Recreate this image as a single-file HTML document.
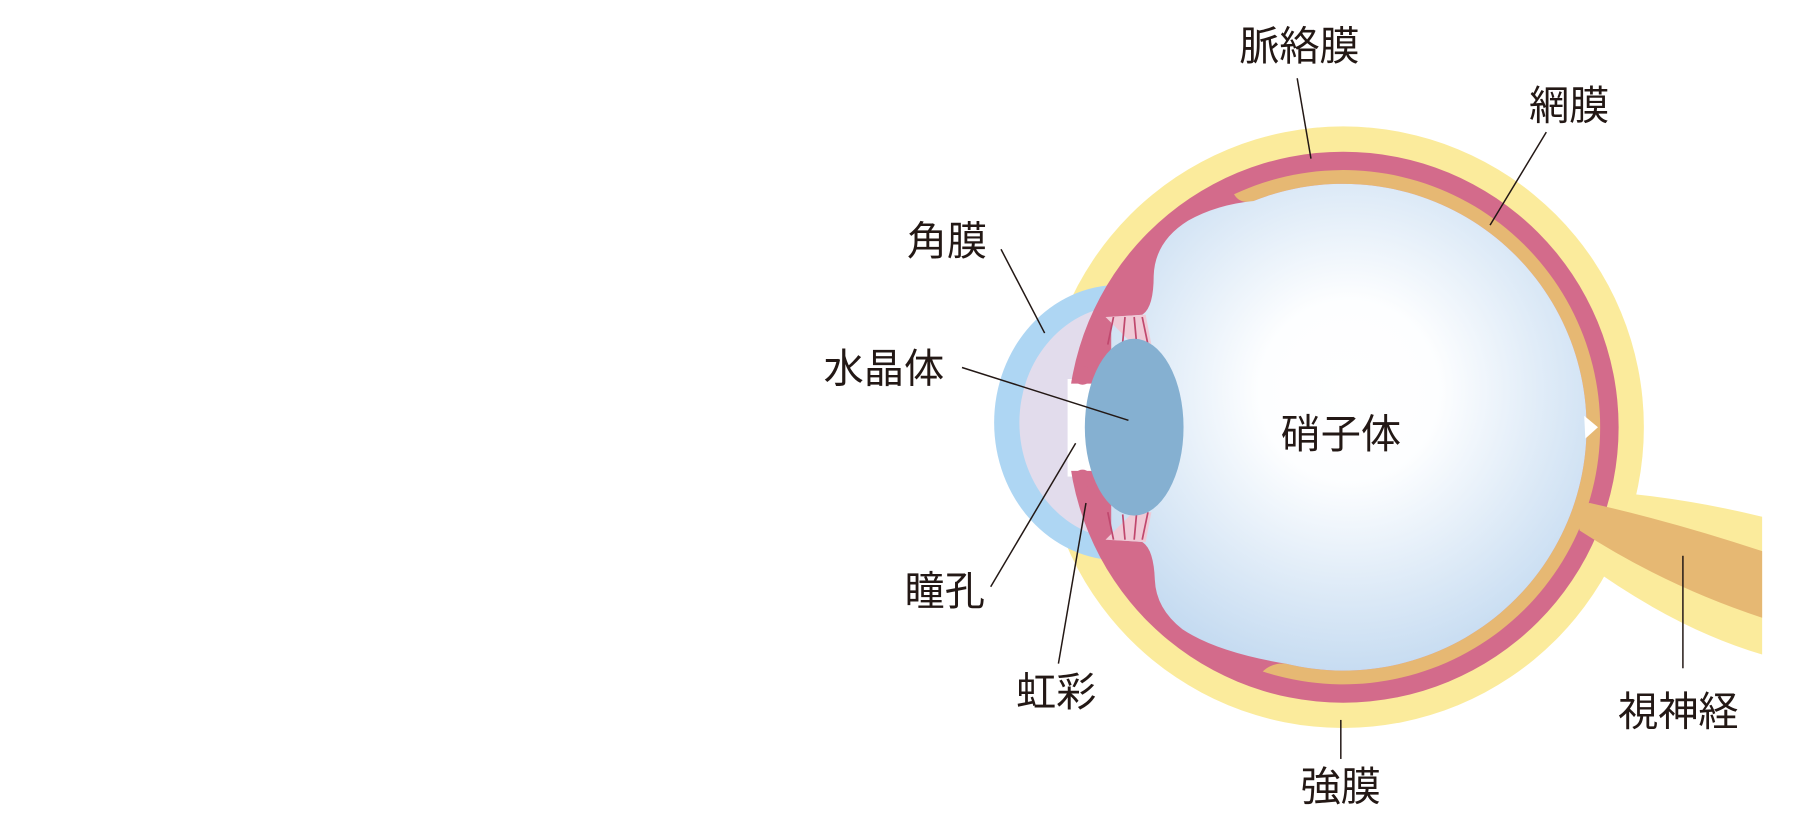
<!DOCTYPE html>
<html><head><meta charset="utf-8"><style>
html,body{margin:0;padding:0;background:#fff;}
svg{display:block;}
text{font-family:"Liberation Sans","Noto Sans CJK JP",sans-serif;font-size:35px;fill:#231815;text-anchor:middle;}
</style></head><body>
<svg width="1800" height="828" viewBox="0 0 1568 721" xmlns="http://www.w3.org/2000/svg">
<defs>
<radialGradient id="vg" cx="1175" cy="340" r="260" gradientUnits="userSpaceOnUse">
<stop offset="0" stop-color="#ffffff"/><stop offset="0.3" stop-color="#fdfeff"/><stop offset="1" stop-color="#c2d9f0"/>
</radialGradient>
<clipPath id="notch"><path clip-rule="evenodd" d="M0,0 H1568 V721 H0 Z M880,334 H956 V410 H880 Z"/></clipPath>
</defs>
<!-- optic nerve sheath -->
<path d="M1400,428 Q1470,434 1535,450 L1535,570 Q1460,548 1380,490 Z" fill="#fbeb9c"/>
<!-- sclera -->
<circle cx="1170" cy="372" r="262" fill="#fbeb9c"/>
<!-- cornea -->
<ellipse cx="975" cy="368" rx="109" ry="120" fill="#aed6f3"/>
<ellipse cx="980" cy="368" rx="92" ry="102" fill="#e2dcec"/>
<rect x="930" y="330" width="28" height="85" fill="#fff"/>
<!-- choroid -->
<circle cx="1170" cy="372" r="240" fill="#d36b8b" clip-path="url(#notch)"/>
<circle cx="943" cy="327" r="8" fill="#d36b8b"/>
<circle cx="943" cy="417" r="8" fill="#d36b8b"/>
<!-- retina -->
<path d="M1075,169.1 A224 224 0 1 1 1100,584.8 Q1108,577 1120,578 A212 212 0 1 0 1092,174.9 Q1080,178 1075,169.1 Z" fill="#e6b873"/>
<!-- optic nerve -->
<path d="M1372,440 L1385,438 Q1460,455 1535,480 L1535,538 Q1450,510 1376,462 Z" fill="#e6b873"/>
<!-- vitreous -->
<path d="M1092,174.9 A212 212 0 1 1 1120,578 Q1060,568 1030,548 Q1007,530 1006,505 Q1005,478 995,472 L968,470 L968,276 L995,274 Q1005,268 1005,240 Q1006,210 1035,192 Q1060,178 1092,174.9 Z" fill="url(#vg)"/>
<path d="M1380,362 L1392,372 L1381,382 Z" fill="#fff"/>
<!-- zonules -->
<path d="M963,276 L998,274 L1003,300 L985,298 Z" fill="#f0c9d6"/>
<path d="M963,470 L998,472 L1003,446 L985,448 Z" fill="#f0c9d6"/>
<g stroke="#c0486e" stroke-width="1.5">
<line x1="970" y1="276" x2="965" y2="300"/><line x1="980" y1="276" x2="978" y2="298"/><line x1="988" y1="276" x2="990" y2="298"/><line x1="995" y1="276" x2="1000" y2="300"/>
<line x1="970" y1="470" x2="965" y2="446"/><line x1="980" y1="470" x2="978" y2="448"/><line x1="988" y1="470" x2="990" y2="448"/><line x1="995" y1="470" x2="1000" y2="446"/>
</g>
<!-- lens -->
<ellipse cx="988" cy="372" rx="43" ry="77" fill="#85b0d1"/>
<!-- leader lines -->
<g stroke="#231815" stroke-width="1.3">
<line x1="1130" y1="68" x2="1142" y2="138"/>
<line x1="1347" y1="115" x2="1298" y2="196"/>
<line x1="872" y1="217" x2="910" y2="290"/>
<line x1="838" y1="320" x2="983" y2="366"/>
<line x1="863" y1="511" x2="937" y2="386"/>
<line x1="922" y1="578" x2="946" y2="438"/>
<line x1="1466" y1="484" x2="1466" y2="582"/>
<line x1="1168" y1="627" x2="1168" y2="661"/>
</g>
<text x="1132" y="52">脈絡膜</text>
<text x="1367" y="104">網膜</text>
<text x="825" y="222">角膜</text>
<text x="770" y="333">水晶体</text>
<text x="1168" y="390">硝子体</text>
<text x="823" y="527">瞳孔</text>
<text x="920" y="615">虹彩</text>
<text x="1462" y="632">視神経</text>
<text x="1168" y="697">強膜</text>
</svg>
</body></html>
